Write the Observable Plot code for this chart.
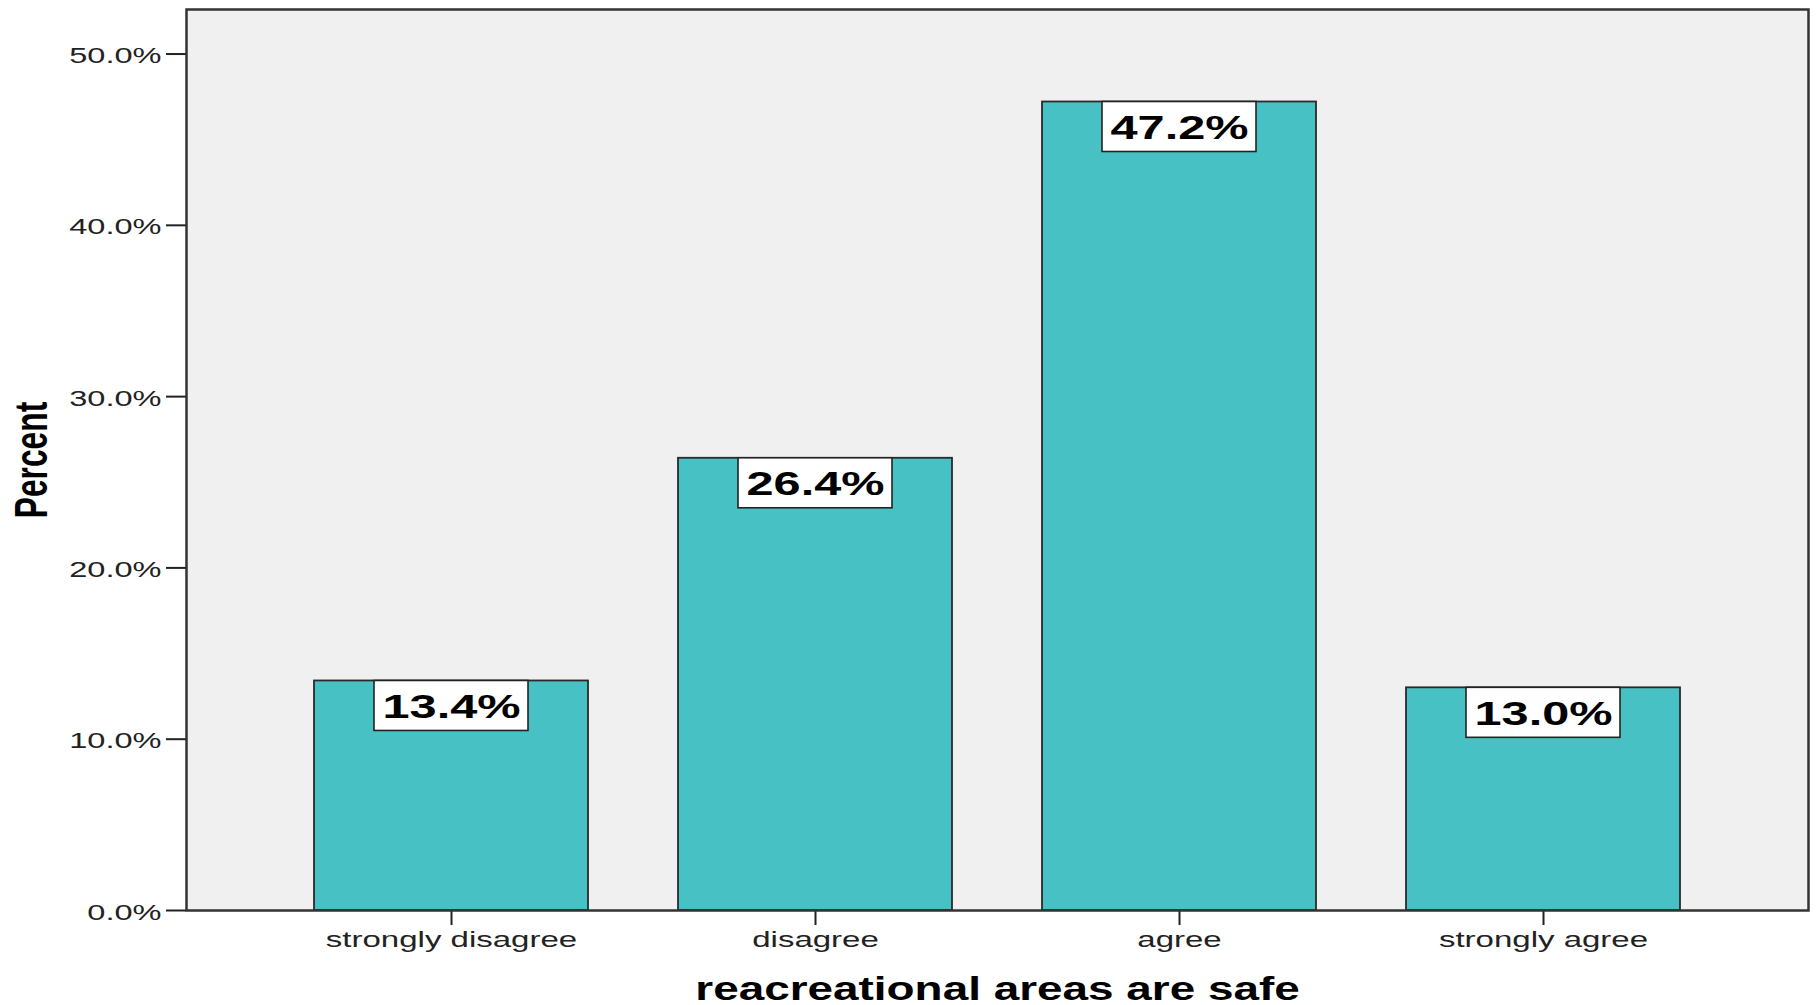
<!DOCTYPE html>
<html><head><meta charset="utf-8">
<script src="https://cdn.jsdelivr.net/npm/d3@7"></script>
<script src="https://cdn.jsdelivr.net/npm/@observablehq/plot@0.6"></script>
<style>body{margin:0;background:#fff} svg{display:block}</style>
</head><body><div id="chart"></div>
<script>
const categories = ["strongly disagree", "disagree", "agree", "strongly agree"];
const percents = [13.4, 26.4, 47.2, 13.0];
const yTicks = [0, 10, 20, 30, 40, 50];
const xTitle = "reacreational areas are safe";
const yTitle = "Percent";

const data = categories.map((c, i) => ({category: c, percent: percents[i]}));
const fmt = d => d.toFixed(1) + "%";

const plot = Plot.plot({
  width: 1816, height: 1005,
  marginLeft: 186, marginRight: 8, marginTop: 9, marginBottom: 95,
  style: {fontFamily: "'Liberation Sans', Arial, sans-serif", background: "#fff", color: "#222"},
  x: {domain: categories, paddingInner: 0.248, paddingOuter: 0.348, label: null},
  y: {domain: [0, 52.6], label: null},
  marks: [
    Plot.frame({fill: "#f0f0f0", stroke: null}),
    Plot.barY(data, {x: "category", y: "percent", fill: "#48c1c5", stroke: "#2a2a2a", strokeWidth: 1.8}),
    Plot.barY(data, {x: "category", y1: "percent", y2: "percent", insetLeft: 60, insetRight: 60, insetBottom: -50,
      fill: "#fff", stroke: "#222", strokeWidth: 1.6}),
    Plot.text(data, {x: "category", y: "percent", text: d => fmt(d.percent), dy: 26, fontSize: 34,
      fontWeight: "bold", fill: "#000"}),
    Plot.axisY({ticks: yTicks, tickFormat: fmt, tickSize: 20, tickPadding: 5, fontSize: 22,
      strokeWidth: 2, color: "#222", label: null}),
    Plot.axisX({tickSize: 15, tickPadding: 6, fontSize: 22, strokeWidth: 2, color: "#222", label: null}),
    Plot.frame({stroke: "#333", strokeWidth: 2.5}),
    Plot.text([yTitle], {frameAnchor: "left", textAnchor: "middle", lineAnchor: "middle", dx: -154, rotate: -90,
      fontSize: 46, fontWeight: "bold", fill: "#000"}),
    Plot.text([xTitle], {frameAnchor: "bottom", textAnchor: "middle", dy: 89, lineAnchor: "bottom", fontSize: 33,
      fontWeight: "bold", fill: "#000"})
  ]
});
document.getElementById("chart").append(plot);

function stretchTexts(texts, f) {
  texts.forEach(t => {
    const L = t.getComputedTextLength();
    t.setAttribute("textLength", (L * f).toFixed(1));
    t.setAttribute("lengthAdjust", "spacingAndGlyphs");
  });
}
const sel = s => Array.from(plot.querySelectorAll(s));
stretchTexts(sel('g[aria-label="y-axis tick label"] text'), 1.48);
stretchTexts(sel('g[aria-label="x-axis tick label"] text'), 1.5);
sel('g[aria-label="y-axis tick label"]').forEach(g =>
  g.setAttribute("transform", ((g.getAttribute("transform") || "") + " translate(0,2)").trim()));
const textMarks = sel('g[aria-label="text"]');
// order: value labels, y title, x title
stretchTexts(Array.from(textMarks[0].querySelectorAll("text")), 1.43);
stretchTexts(Array.from(textMarks[1].querySelectorAll("text")), 0.69);
stretchTexts(Array.from(textMarks[2].querySelectorAll("text")), 1.39);
</script>
</body></html>
